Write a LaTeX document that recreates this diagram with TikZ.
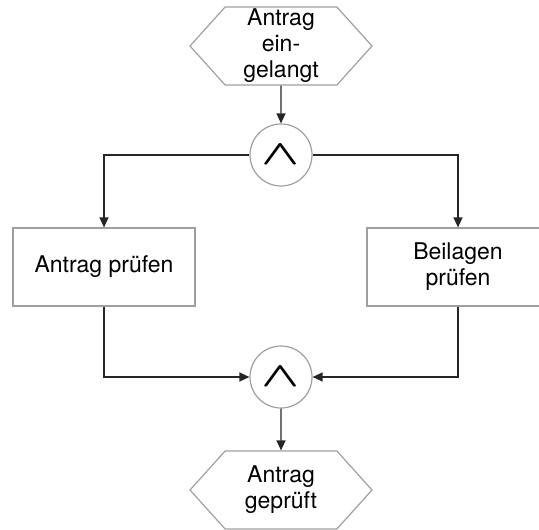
\documentclass[tikz,border=0pt]{standalone}
\usepackage{fontspec}
\setmainfont{TeX Gyre Heros}
\usetikzlibrary{shapes.symbols,arrows.meta}

\newcommand{\andsym}{\raisebox{-3pt}{\scalebox{2.0}[1.4]{\boldmath$\wedge$}}}

\begin{document}
\begin{tikzpicture}[
  x=1pt, y=-1pt,
  font=\fontsize{23}{26}\selectfont,
  ev/.style={signal, signal to=east and west, signal pointer angle=96,
    draw=gray!75, line width=1.2pt, minimum width=182pt, minimum height=78pt,
    inner sep=0pt, align=center},
  fn/.style={rectangle, draw=gray!75, line width=1.2pt,
    minimum width=182pt, minimum height=78pt, inner sep=0pt, align=center},
  con/.style={circle, draw=gray!75, line width=1.2pt, minimum size=62pt, inner sep=0pt},
  flow/.style={draw, black!85, line width=1.3pt, -{Triangle[length=10pt,width=9pt]}},
]
\useasboundingbox (0,0) rectangle (539,530);
\clip (0,0) rectangle (539,530);

% --- events and functions ---
\node[ev] (start) at (281,46) {Antrag\\ein-\\gelangt};
\node[con] (and1) at (281,155) {\andsym};
\node[fn] (check) at (104,267) {Antrag prüfen};
\node[fn] (attach) at (458,267) {Beilagen\\prüfen};
\node[con] (and2) at (281,377) {\andsym};
\node[ev] (done) at (281,490) {Antrag\\geprüft};

% --- control flow ---
\draw[flow] (start) -- (and1);
\draw[flow] (and1) -| (check);
\draw[flow] (and1) -| (attach);
\draw[flow] (check) |- (and2);
\draw[flow] (attach) |- (and2);
\draw[flow] (and2) -- (done);
\end{tikzpicture}
\end{document}
